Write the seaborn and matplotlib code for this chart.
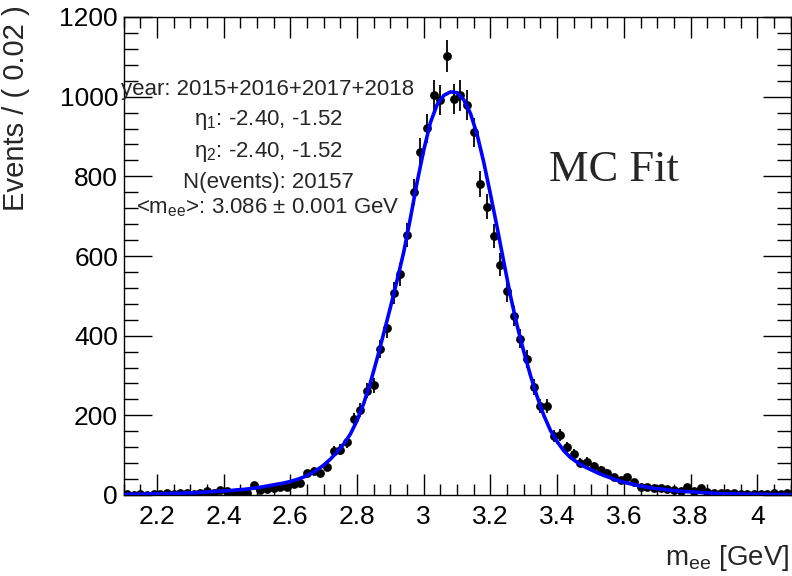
import numpy as np
import pandas as pd
import matplotlib
matplotlib.use("Agg")
import matplotlib.pyplot as plt
from matplotlib.ticker import MultipleLocator, FormatStrFormatter
import seaborn as sns

# bin centres (width 0.02 GeV) and event counts
bin_centers = [round(2.11 + 0.02 * i, 2) for i in range(100)]
counts = [
    2, 1, 2, 1, 3, 2, 4, 3, 5, 4,
    3, 6, 9, 5, 13, 11, 4, 4, 6, 25,
    13, 14, 17, 19, 19, 28, 31, 55, 60, 54,
    71, 111, 114, 132, 190, 214, 262, 275, 366, 419,
    507, 554, 653, 760, 861, 921, 1005, 992, 1103, 994,
    1003, 978, 911, 781, 724, 650, 578, 512, 450, 392,
    342, 272, 223, 224, 148, 151, 121, 103, 81, 84,
    73, 63, 56, 44, 38, 44, 33, 19, 19, 17,
    17, 14, 13, 10, 21, 10, 17, 8, 6, 5,
    4, 4, 3, 3, 2, 3, 2, 4, 2, 4,
]

# fitted curve, sampled every 0.02 GeV from 2.10 to 4.10
fit_x = [round(2.10 + 0.02 * i, 2) for i in range(101)]
fit_y = [
    1, 2, 2, 2, 3, 3, 3, 4, 4, 5,
    5, 6, 7, 8, 9, 10, 11, 13, 14, 16,
    18, 21, 24, 27, 30, 34, 39, 45, 53, 63,
    75, 90, 108, 128, 153, 187, 230, 282, 342, 406,
    471, 539, 610, 695, 785, 866, 935, 980, 1003, 1012,
    1010, 992, 958, 905, 835, 755, 672, 585, 500, 425,
    360, 300, 247, 200, 162, 134, 111, 94, 82, 72,
    64, 56, 49, 43, 37, 32, 28, 24, 21, 18,
    16, 14, 12, 10, 9, 8, 7, 6, 5, 4,
    3, 3, 3, 2, 2, 2, 2, 1, 1, 1,
    1,
]

legend_lines = [
    "year: 2015+2016+2017+2018",
    "η$_1$: -2.40, -1.52",
    "η$_2$: -2.40, -1.52",
    "N(events): 20157",
    "<m$_{ee}$>: 3.086 ± 0.001 GeV",
]

data = pd.DataFrame({"m": bin_centers, "n": counts})
data["err"] = 1.2 * np.sqrt(data["n"])
fit = pd.DataFrame({"m": fit_x, "y": fit_y})

sns.set_theme(style="ticks")
plt.rcParams["font.family"] = ["Liberation Sans", "DejaVu Sans"]
plt.rcParams["mathtext.default"] = "regular"

fig = plt.figure(figsize=(7.92, 5.76), dpi=100)
ax = fig.add_axes([123.6 / 792, 1 - 495 / 576, 667 / 792, 478 / 576])

ax.errorbar(data["m"], data["n"], yerr=data["err"], fmt="none",
            ecolor="black", elinewidth=1.3, capsize=0, zorder=2)
sns.scatterplot(data=data, x="m", y="n", ax=ax, color="black", s=40,
                edgecolor="black", linewidth=0, zorder=3, legend=False)
sns.lineplot(data=fit, x="m", y="y", ax=ax, color="#0000ff", linewidth=2.6,
             zorder=4, legend=False)

ax.set_xlim(2.1, 4.1)
ax.set_ylim(0, 1200)
ax.xaxis.set_major_locator(MultipleLocator(0.2))
ax.xaxis.set_minor_locator(MultipleLocator(0.05))
ax.yaxis.set_major_locator(MultipleLocator(200))
ax.yaxis.set_minor_locator(MultipleLocator(40))
ax.xaxis.set_major_formatter(FormatStrFormatter("%g"))
ax.tick_params(which="both", direction="in", top=True, right=True,
               colors="black", labelsize=19, width=1)
ax.tick_params(axis="x", which="major", length=15, pad=7)
ax.tick_params(axis="x", which="minor", length=8)
ax.tick_params(axis="y", which="major", length=20, pad=4)
ax.tick_params(axis="y", which="minor", length=10)
for sp in ax.spines.values():
    sp.set_color("black")
    sp.set_linewidth(1)

ax.set_xlabel("m$_{ee}$ [GeV]", fontsize=20, loc="right")
ax.xaxis.set_label_coords(0.9985, -0.1)
ax.set_ylabel("Events / ( 0.02 )", fontsize=21, loc="top")
ax.yaxis.set_label_coords(-0.14, 1.025)

baselines = [95, 125, 157, 188, 213]
for txt, yb in zip(legend_lines, baselines):
    ax.text(0.2165, (495 - yb) / 478, txt, transform=ax.transAxes,
            ha="center", va="baseline", fontsize=16)

ax.text((549 - 123.6) / 667, (495 - 170) / 478, "MC Fit",
        transform=ax.transAxes, ha="left", va="center", fontsize=32,
        family=["Liberation Serif", "DejaVu Serif"])

fig.savefig("out.png", dpi=100)
